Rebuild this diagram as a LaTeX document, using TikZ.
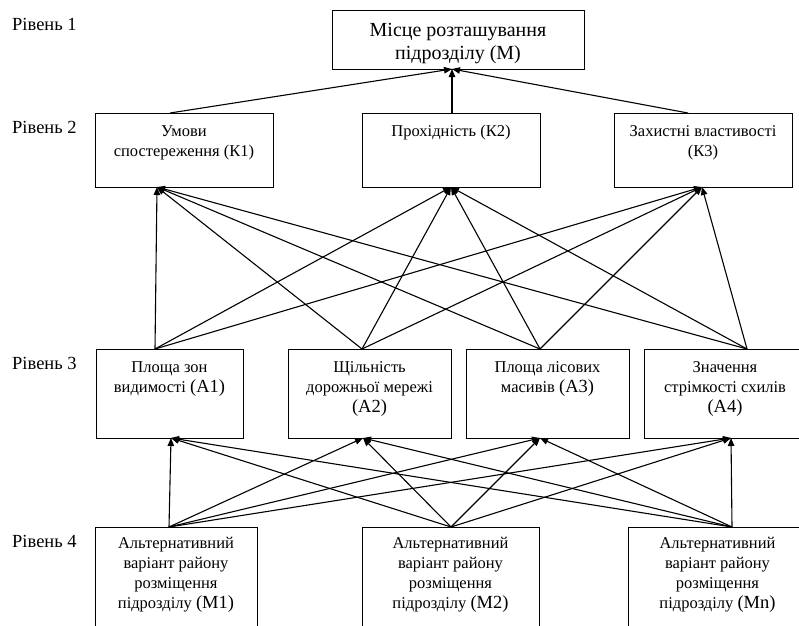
\documentclass[tikz,border=0pt]{standalone}
\usepackage{fontspec}
\setmainfont{Liberation Serif}
\usetikzlibrary{arrows.meta}
\begin{document}
\begin{tikzpicture}[x=1pt,y=-1pt,
  box/.style={draw, line width=1pt, inner sep=0pt},
  txt/.style={anchor=north, inner sep=0pt, align=center, font=\fontsize{16.5}{20}\selectfont},
  toptxt/.style={anchor=north, inner sep=0pt, align=center, font=\fontsize{20}{23}\selectfont},
  lvl/.style={anchor=base west, inner sep=0pt, font=\fontsize{18.5}{22}\selectfont},
  arr/.style={line width=1.1pt, -{Triangle[length=8pt,width=6.5pt]}}]
\useasboundingbox (0,0) rectangle (799,625);
\clip (0,0) rectangle (799,625);

% level labels
\node[lvl] (l1) at (12,30) {Рівень 1};
\node[lvl] (l2) at (12,133) {Рівень 2};
\node[lvl] (l3) at (12,369) {Рівень 3};
\node[lvl] (l4) at (12,547) {Рівень 4};

% level 1
\node[box, minimum width=252pt, minimum height=59pt] (m) at (458,39.5) {};
\node[toptxt] (mt) at (458,19.9) {\strut Місце розташування\\підрозділу (М)};

% level 2
\node[box, minimum width=178pt, minimum height=74pt] (k1) at (184,150) {};
\node[box, minimum width=178pt, minimum height=74pt] (k2) at (451,150) {};
\node[box, minimum width=178pt, minimum height=74pt] (k3) at (703,150) {};
\node[txt] (k1t) at (184,122) {\strut Умови\\спостереження (К1)};
\node[txt] (k2t) at (451,122) {\strut Прохідність (К2)};
\node[txt] (k3t) at (703,122) {\strut Захистні властивості\\(К3)};

% level 3
\node[box, minimum width=147pt, minimum height=89pt] (a1) at (169.5,393.5) {};
\node[box, minimum width=163pt, minimum height=89pt] (a2) at (369.5,393.5) {};
\node[box, minimum width=163pt, minimum height=89pt] (a3) at (547.5,393.5) {};
\node[box, minimum width=162pt, minimum height=89pt] (a4) at (725,393.5) {};
\node[txt] (a1t) at (169.5,358) {\strut Площа зон\\видимості {\fontsize{18.5}{20}\selectfont(A1)}};
\node[txt] (a2t) at (369.5,358) {\strut Щільність\\дорожньої мережі\\{\fontsize{18.5}{20}\selectfont(A2)}};
\node[txt] (a3t) at (547.5,358) {\strut Площа лісових\\масивів {\fontsize{18.5}{20}\selectfont(A3)}};
\node[txt] (a4t) at (725,358) {\strut Значення\\стрімкості схилів\\{\fontsize{18.5}{20}\selectfont(A4)}};

% level 4
\node[box, minimum width=162pt, minimum height=118pt] (m1) at (176,586) {};
\node[box, minimum width=177pt, minimum height=118pt] (m2) at (450.5,586) {};
\node[box, minimum width=179pt, minimum height=118pt] (mn) at (717.5,586) {};
\node[txt] (m1t) at (176,534) {\strut Альтернативний\\варіант району\\розміщення\\підрозділу {\fontsize{18.5}{20}\selectfont(M1)}};
\node[txt] (m2t) at (450.5,534) {\strut Альтернативний\\варіант району\\розміщення\\підрозділу {\fontsize{18.5}{20}\selectfont(M2)}};
\node[txt] (mnt) at (717.5,534) {\strut Альтернативний\\варіант району\\розміщення\\підрозділу {\fontsize{18.5}{20}\selectfont(Mn)}};

% ports
\coordinate (min) at (452,69);
\coordinate (k1out) at (170,113);
\coordinate (k2out) at (452,113);
\coordinate (k3out) at (688,113);
\coordinate (k1in) at (157,187);
\coordinate (k2in) at (451,187);
\coordinate (k3in) at (702,187);
\coordinate (a1out) at (155,349);
\coordinate (a2out) at (362,349);
\coordinate (a3out) at (540,349);
\coordinate (a4out) at (747,349);
\coordinate (a1in) at (171,438);
\coordinate (a2in) at (363,438);
\coordinate (a3in) at (540,438);
\coordinate (a4in) at (731,438);
\coordinate (m1out) at (169,527);
\coordinate (m2out) at (451,527);
\coordinate (mnout) at (732,527);

% connectors
\foreach \k in {k1,k2,k3} \draw[arr] (\k out) -- (min);
\foreach \a in {a1,a2,a3,a4} \foreach \k in {k1,k2,k3} \draw[arr] (\a out) -- (\k in);
\foreach \mm in {m1,m2,mn} \foreach \a in {a1,a2,a3,a4} \draw[arr] (\mm out) -- (\a in);
\end{tikzpicture}
\end{document}
